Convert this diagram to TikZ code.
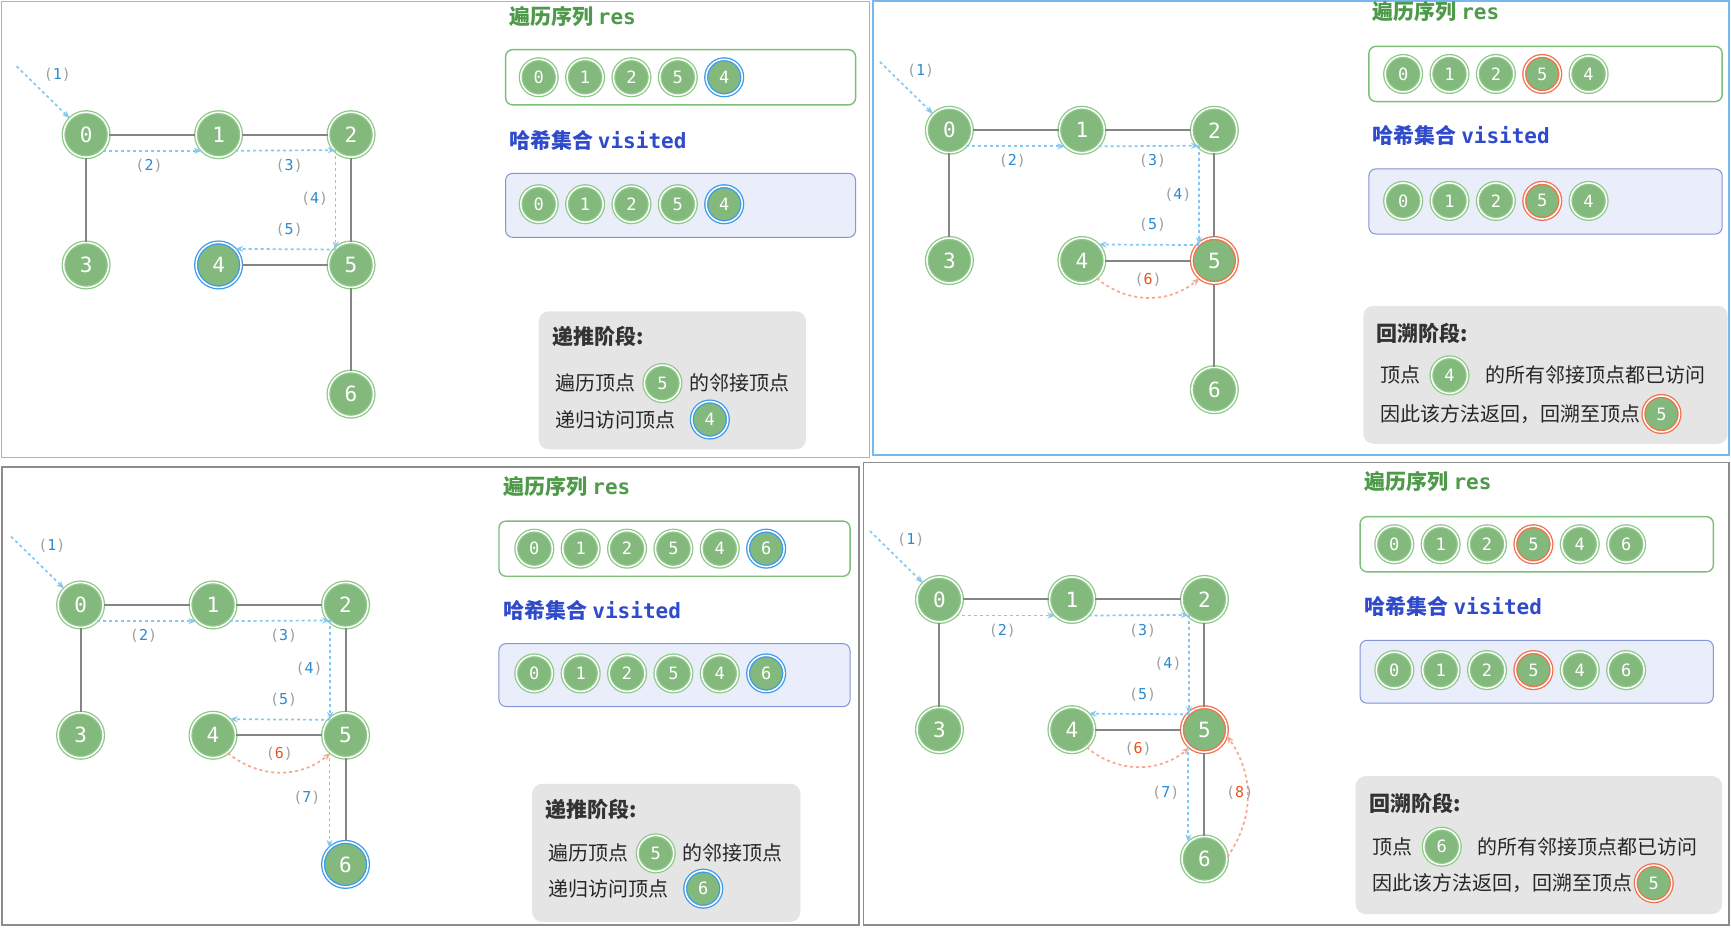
\documentclass[tikz,border=0pt]{standalone}
\usepackage{fontspec}
\setmainfont{Noto Sans CJK SC}
\newfontfamily\monof{DejaVu Sans Mono}
\usetikzlibrary{arrows.meta}
\definecolor{gfill}{HTML}{84B97E}
\definecolor{gring}{HTML}{8FC98A}
\definecolor{bring}{HTML}{3C9BE8}
\definecolor{oring}{HTML}{F0714A}
\definecolor{egray}{HTML}{858585}
\definecolor{barr}{HTML}{86C8F2}
\definecolor{oarr}{HTML}{F5A88C}
\definecolor{lblue}{HTML}{2C8AD0}
\definecolor{lorg}{HTML}{E8561E}
\definecolor{labg}{HTML}{A0A0A0}
\definecolor{tgreen}{HTML}{4E9A4A}
\definecolor{tblue}{HTML}{2F4BCB}
\definecolor{resb}{HTML}{7DBE79}
\definecolor{visfill}{HTML}{E9EEFA}
\definecolor{visb}{HTML}{8593DA}
\definecolor{infofill}{HTML}{E5E5E5}
\tikzset{
 vn/.style={circle,fill=gfill,draw=gring,double=white,double distance=1.5pt,line width=1.3pt,minimum size=45pt,inner sep=0pt,text=white,font=\monof\fontsize{21}{21}\selectfont},
 vnb/.style={vn,draw=bring},
 vno/.style={vn,draw=oring},
 sn/.style={vn,minimum size=36pt,font=\monof\fontsize{17}{17}\selectfont},
 snb/.style={sn,draw=bring},
 sno/.style={sn,draw=oring},
 ed/.style={draw=egray,line width=2pt},
 ba/.style={draw=barr,dashed,line width=1.7pt,-{Stealth[length=8pt]}},
 oa/.style={draw=oarr,dashed,line width=1.7pt,-{Stealth[length=8pt]}},
 lbl/.style={font=\monof\fontsize{15}{15}\selectfont,text=labg},
 ttl/.style={anchor=west,font=\bfseries\fontsize{21}{21}\selectfont},
 txt/.style={anchor=west,font=\fontsize{20}{20}\selectfont,text=black!85,inner sep=0pt},
 resbox/.style={draw=resb,line width=1.4pt,rounded corners=7pt,fill=white},
 visbox/.style={fill=visfill,draw=visb,line width=1pt,rounded corners=7pt},
}
\newcommand\lb[3]{\node[lbl] at (#2) {(\textcolor{#3}{#1})};}
\newcommand\mkgraph[4]{%
 \node[vn] (#1n0) at (78,122) {0};
 \node[vn] (#1n1) at (198,122) {1};
 \node[vn] (#1n2) at (318,122) {2};
 \node[vn] (#1n3) at (78,240) {3};
 \node[#2] (#1n4) at (198,240) {4};
 \node[#3] (#1n5) at (318,240) {5};
 \node[#4] (#1n6) at (318,357) {6};
 \draw[ed] (#1n0)--(#1n1); \draw[ed] (#1n1)--(#1n2); \draw[ed] (#1n0)--(#1n3);
 \draw[ed] (#1n2)--(#1n5); \draw[ed] (#1n4)--(#1n5); \draw[ed] (#1n5)--(#1n6);
 \coordinate (#1s) at (15,60);
 \coordinate (#1c2) at (304,136);
 \coordinate (#1c5) at (304,226);
 \draw[ba] (#1s) -- (#1n0.north west);
 \draw[ba] (#1n0.-44) -- (#1n1.224);
 \draw[ba] (#1n1.-44) -- (#1c2);
 \draw[ba] (#1c2) -- (#1c5);
 \draw[ba] (#1c5) -- (#1n4.44);
 \lb{1}{52,68}{lblue}\lb{2}{135,150}{lblue}\lb{3}{262,150}{lblue}\lb{4}{285,180}{lblue}\lb{5}{262,208}{lblue}
}
\newcommand\stepsix[1]{\draw[oa] (#1n4.-50) to[bend right=40] (#1n5.-130); \lb{6}{258,257}{lorg}}
\newcommand\stepseven[1]{\draw[ba] (#1n5.-134) -- (#1n6.134); \lb{7}{283,297}{lblue}}
\newcommand\stepeight[1]{\draw[oa] (#1n6.5) to[bend right=35] (#1n5.-15); \lb{8}{350,297}{lorg}}
\newcommand\row[4]{\foreach \s/\t [count=\k] in {#4} {\node[\s] (#1\k) at ({#2+42*(\k-1)},#3) {\t};}}
\begin{document}
\begin{tikzpicture}[x=1.104pt,y=-1.104pt]
\useasboundingbox (0,0) rectangle (1568,840);
\fill[white] (0,0) rectangle (1568,840);
% frames
\draw[black!30,line width=1pt] (1,1) rectangle (788,414);
\draw[black!45,line width=1.5pt] (2,423) rectangle (778,838);
\draw[black!45,line width=1.5pt] (782,419) rectangle (1566,838);
\draw[bring!70,line width=2pt] (791,1) rectangle (1566,412);
% ===== panel 1
\mkgraph{a}{vnb}{vn}{vn}
\node[ttl,text=tgreen] (a-t1) at (458,15) {遍历序列 {\monof res}};
\draw[resbox] (458,45) rectangle (775,95);
\row{ar}{488}{70}{sn/0,sn/1,sn/2,sn/5,snb/4}
\node[ttl,text=tblue] (a-t2) at (458,127) {哈希集合 {\monof visited}};
\draw[visbox] (458,157) rectangle (775,215);
\row{av}{488}{185}{sn/0,sn/1,sn/2,sn/5,snb/4}
\fill[infofill,rounded corners=10pt] (488,282) rectangle (730,407);
\node[ttl,text=black!80] (a-i0) at (497,305) {递推阶段:};
\node[txt] (a-i1) at (503,347) {遍历顶点};
\node[sn] (a-i2) at (600,347) {5};
\node[txt] (a-i3) at (624,347) {的邻接顶点};
\node[txt] (a-i4) at (503,380) {递归访问顶点};
\node[snb] (a-i5) at (643,380) {4};
% ===== panel 2
\begin{scope}[shift={(782,-4)}]
\mkgraph{b}{vn}{vno}{vn}
\stepsix{b}
\end{scope}
\node[ttl,text=tgreen] (b-t1) at (1240,10) {遍历序列 {\monof res}};
\draw[resbox] (1240,42) rectangle (1560,92);
\row{br}{1271}{67}{sn/0,sn/1,sn/2,sno/5,sn/4}
\node[ttl,text=tblue] (b-t2) at (1240,123) {哈希集合 {\monof visited}};
\draw[visbox] (1240,153) rectangle (1560,212);
\row{bv}{1271}{182}{sn/0,sn/1,sn/2,sno/5,sn/4}
\fill[infofill,rounded corners=10pt] (1235,277) rectangle (1565,402);
\node[ttl,text=black!80] (b-i0) at (1244,302) {回溯阶段:};
\node[txt] (b-i1) at (1250,340) {顶点};
\node[sn] (b-i2) at (1313,340) {4};
\node[txt] (b-i3) at (1345,340) {的所有邻接顶点都已访问};
\node[txt] (b-i4) at (1250,375) {因此该方法返回，回溯至顶点};
\node[sno] (b-i5) at (1505,375) {5};
% ===== panel 3
\begin{scope}[shift={(-5,426)}]
\mkgraph{c}{vn}{vn}{vnb}
\stepsix{c}
\stepseven{c}
\end{scope}
\node[ttl,text=tgreen] (c-t1) at (453,441) {遍历序列 {\monof res}};
\draw[resbox] (452,472) rectangle (770,522);
\row{cr}{484}{497}{sn/0,sn/1,sn/2,sn/5,sn/4,snb/6}
\node[ttl,text=tblue] (c-t2) at (453,553) {哈希集合 {\monof visited}};
\draw[visbox] (452,583) rectangle (770,640);
\row{cv}{484}{610}{sn/0,sn/1,sn/2,sn/5,sn/4,snb/6}
\fill[infofill,rounded corners=10pt] (482,710) rectangle (725,835);
\node[ttl,text=black!80] (c-i0) at (491,733) {递推阶段:};
\node[txt] (c-i1) at (497,773) {遍历顶点};
\node[sn] (c-i2) at (594,773) {5};
\node[txt] (c-i3) at (618,773) {的邻接顶点};
\node[txt] (c-i4) at (497,805) {递归访问顶点};
\node[snb] (c-i5) at (637,805) {6};
% ===== panel 4
\begin{scope}[shift={(773,421)}]
\mkgraph{d}{vn}{vno}{vn}
\stepsix{d}
\stepseven{d}
\stepeight{d}
\end{scope}
\node[ttl,text=tgreen] (d-t1) at (1233,436) {遍历序列 {\monof res}};
\draw[resbox] (1232,468) rectangle (1552,518);
\row{dr}{1263}{493}{sn/0,sn/1,sn/2,sno/5,sn/4,sn/6}
\node[ttl,text=tblue] (d-t2) at (1233,549) {哈希集合 {\monof visited}};
\draw[visbox] (1232,580) rectangle (1552,637);
\row{dv}{1263}{607}{sn/0,sn/1,sn/2,sno/5,sn/4,sn/6}
\fill[infofill,rounded corners=10pt] (1228,703) rectangle (1560,828);
\node[ttl,text=black!80] (d-i0) at (1237,728) {回溯阶段:};
\node[txt] (d-i1) at (1243,767) {顶点};
\node[sn] (d-i2) at (1306,767) {6};
\node[txt] (d-i3) at (1338,767) {的所有邻接顶点都已访问};
\node[txt] (d-i4) at (1243,800) {因此该方法返回，回溯至顶点};
\node[sno] (d-i5) at (1498,800) {5};
\end{tikzpicture}
\end{document}
